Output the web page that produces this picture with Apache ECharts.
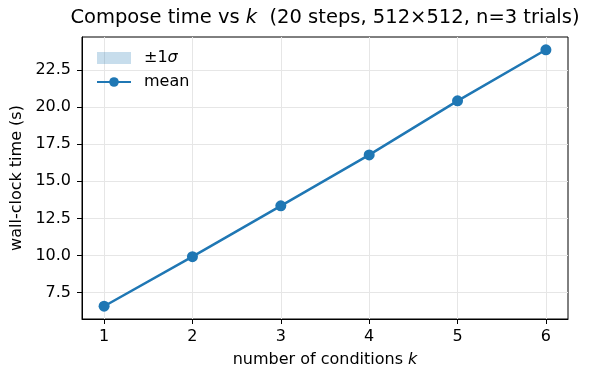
<!DOCTYPE html>
<html>
<head>
<meta charset="utf-8">
<script src="https://cdn.jsdelivr.net/npm/echarts@6/dist/echarts.min.js"></script>
<style>html,body{margin:0;padding:0;background:#fff}#c{width:590px;height:373px}</style>
</head>
<body>
<div id="c"></div>
<script>
const kValues = [1, 2, 3, 4, 5, 6];
const meanTime = [6.59, 9.93, 13.35, 16.78, 20.42, 23.86];
const stdTime = [0.03, 0.04, 0.05, 0.04, 0.06, 0.05];
const xTicks = [1, 2, 3, 4, 5, 6];
const yTicks = [7.5, 10.0, 12.5, 15.0, 17.5, 20.0, 22.5];

const FONT = 'DejaVu Sans';
const BLUE = '#1f77b4';
const BAND = 'rgba(31,119,180,0.25)';
const meanPts = kValues.map((k, i) => [k, meanTime[i]]);
const bandData = kValues.map((k, i) => [k, meanTime[i] - stdTime[i], meanTime[i] + stdTime[i]]);

const chart = echarts.init(document.getElementById('c'), null, {renderer: 'canvas'});
chart.setOption({
  animation: false,
  backgroundColor: '#fff',
  title: {
    text: 'Compose time vs {i|k}  (20 steps, 512×512, n=3 trials)',
    left: 325, textAlign: 'center', top: 8, padding: 0,
    textStyle: {
      fontFamily: FONT, fontSize: 19.5, fontWeight: 'normal', color: '#000',
      rich: {i: {fontFamily: FONT, fontSize: 19.5, fontStyle: 'italic', color: '#000'}}
    }
  },
  grid: {left: 82, right: 22, top: 37, bottom: 50, show: true, borderColor: '#000', borderWidth: 1},
  legend: {
    orient: 'vertical', left: 96, top: 50, padding: 0, itemWidth: 34, itemHeight: 12, itemGap: 8,
    data: [
      {name: '±1σ', icon: 'rect', itemStyle: {color: BAND, borderWidth: 0}},
      {name: 'mean'}
    ],
    formatter: n => n === '±1σ' ? '±1{i|σ}' : n,
    textStyle: {fontFamily: FONT, fontSize: 16, color: '#000', padding: [0, 0, 0, 8],
      rich: {i: {fontFamily: FONT, fontSize: 16, fontStyle: 'italic', color: '#000'}}}
  },
  xAxis: {
    type: 'value', min: 0.75, max: 6.25,
    name: 'number of conditions {i|k}', nameLocation: 'middle', nameGap: 33,
    nameTextStyle: {fontFamily: FONT, fontSize: 16, color: '#000',
      rich: {i: {fontFamily: FONT, fontSize: 16, fontStyle: 'italic', color: '#000'}}},
    axisLine: {show: true, onZero: false, lineStyle: {color: '#000', width: 1}},
    axisTick: {show: true, length: 5, customValues: xTicks, lineStyle: {color: '#000'}},
    axisLabel: {customValues: xTicks, margin: 10, fontFamily: FONT, fontSize: 16, color: '#000'},
    splitLine: {show: true, lineStyle: {color: '#e6e6e6', width: 1}}
  },
  yAxis: {
    type: 'value', min: 5.73, max: 24.72,
    name: 'wall-clock time (s)', nameLocation: 'middle', nameGap: 53,
    nameTextStyle: {fontFamily: FONT, fontSize: 16, color: '#000'},
    axisLine: {show: true, onZero: false, lineStyle: {color: '#000', width: 1}},
    axisTick: {show: true, length: 5, customValues: yTicks, lineStyle: {color: '#000'}},
    axisLabel: {customValues: yTicks, margin: 11, fontFamily: FONT, fontSize: 16, color: '#000',
      formatter: v => v.toFixed(1)},
    splitLine: {show: true, lineStyle: {color: '#e6e6e6', width: 1}}
  },
  series: [
    {
      type: 'custom', name: '±1σ', data: bandData, silent: true, itemStyle: {color: BAND},
      encode: {x: 0, y: [1, 2]},
      renderItem: function (params, api) {
        if (params.dataIndex !== 0) return null;
        const up = [], lo = [];
        for (let i = 0; i < bandData.length; i++) {
          up.push(api.coord([bandData[i][0], bandData[i][2]]));
          lo.unshift(api.coord([bandData[i][0], bandData[i][1]]));
        }
        return {type: 'polygon', shape: {points: up.concat(lo)}, style: {fill: BAND}};
      }
    },
    {type: 'line', name: 'mean', data: meanPts, symbol: 'circle', symbolSize: 11,
      lineStyle: {color: BLUE, width: 2.5}, itemStyle: {color: BLUE}}
  ]
});
</script>
</body>
</html>
